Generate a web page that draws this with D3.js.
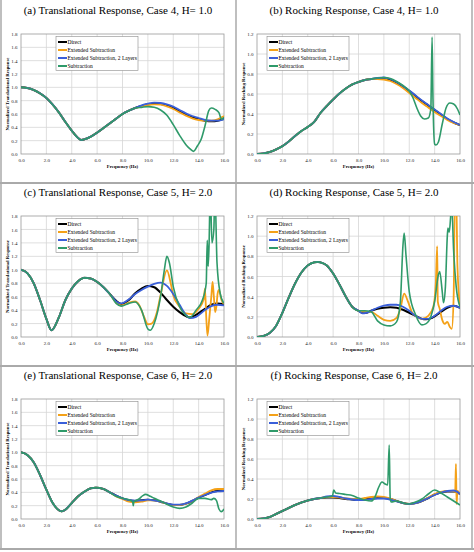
<!DOCTYPE html>
<html>
<head>
<meta charset="utf-8">
<script src="https://cdn.jsdelivr.net/npm/d3@7/dist/d3.min.js"></script>
<style>
  html, body { margin: 0; padding: 0; background: #fff; }
  svg { display: block; }
</style>
</head>
<body>
<svg id="chart" width="474" height="552"></svg>
<script>
// ---------------- DATA ----------------
const xTicks = [0, 2, 4, 6, 8, 10, 12, 14, 16];
const yTicksTrans = [0, 0.2, 0.4, 0.6, 0.8, 1.0, 1.2, 1.4, 1.6, 1.8];
const yTicksRock = [0, 0.2, 0.4, 0.6, 0.8, 1.0, 1.2];
const seriesNames = ["Direct", "Extended Subtraction", "Extended Subtraction, 2 Layers", "Subtraction"];
const titles = [
  "(a)  Translational Response, Case 4, H= 1.0",
  "(b)  Rocking Response, Case 4, H= 1.0",
  "(c)  Translational Response, Case 5, H= 2.0",
  "(d)  Rocking Response, Case 5, H= 2.0",
  "(e)  Translational Response, Case 6, H= 2.0",
  "(f)  Rocking Response, Case 6, H= 2.0"
];

// Panel (a) Translational, Case 4
const aCommon = [[0,1.0],[0.5,0.99],[1,0.96],[1.5,0.91],[2,0.84],[2.5,0.74],[3,0.62],[3.5,0.48],[4,0.35],[4.5,0.24],[4.75,0.21],[5,0.22],[5.5,0.26],[6,0.32],[6.5,0.39],[7,0.46],[7.5,0.53],[8,0.60],[8.5,0.65],[9,0.69]];
const aDirect = [[9.5,0.72],[10,0.745],[10.5,0.755],[11,0.75],[11.5,0.73],[12,0.69],[12.5,0.64],[13,0.59],[13.5,0.55],[14,0.52],[14.5,0.50],[15,0.49],[15.5,0.50],[16,0.53]];
const aExt = [[9.5,0.71],[10,0.735],[10.5,0.745],[11,0.74],[11.5,0.715],[12,0.675],[12.5,0.625],[13,0.575],[13.5,0.535],[14,0.51],[14.5,0.50],[15,0.50],[15.5,0.52],[16,0.57]];
const aExt2 = [[9.5,0.73],[10,0.755],[10.5,0.77],[11,0.765],[11.5,0.745],[12,0.71],[12.5,0.66],[13,0.61],[13.5,0.57],[14,0.54],[14.5,0.51],[15,0.50],[15.5,0.50],[16,0.52]];
const aSub = [[9.5,0.70],[10,0.71],[10.5,0.70],[11,0.66],[11.5,0.58],[12,0.44],[12.5,0.28],[13,0.14],[13.3,0.08],[13.6,0.04],[13.9,0.12],[14.2,0.22],[14.5,0.42],[14.8,0.65],[15.0,0.69],[15.3,0.67],[15.6,0.62],[15.8,0.52],[16,0.55]];

// Panel (b) Rocking, Case 4
const bCommon = [[0,0],[0.5,0.005],[1,0.02],[1.5,0.045],[2,0.078],[2.5,0.125],[3,0.18],[3.5,0.23],[4,0.27],[4.5,0.32],[5,0.41],[5.5,0.48],[6,0.545],[6.5,0.605],[7,0.655],[7.5,0.695],[8,0.72],[8.5,0.74],[9,0.75]];
const bDirect = [[9.5,0.755],[10,0.75],[10.5,0.74],[11,0.715],[11.5,0.675],[12,0.63],[12.5,0.58],[13,0.53],[13.5,0.485],[14,0.44],[14.5,0.395],[15,0.35],[15.5,0.315],[16,0.29]];
const bExt = [[9.5,0.75],[10,0.745],[10.5,0.73],[11,0.70],[11.5,0.66],[12,0.61],[12.5,0.56],[13,0.51],[13.5,0.465],[14,0.42],[14.5,0.38],[15,0.34],[15.5,0.31],[16,0.29]];
const bExt2 = [[9.5,0.76],[10,0.765],[10.5,0.75],[11,0.72],[11.5,0.68],[12,0.635],[12.5,0.585],[13,0.535],[13.5,0.49],[14,0.445],[14.5,0.40],[15,0.355],[15.5,0.32],[16,0.29]];
const bSub = [[9.5,0.76],[10,0.765],[10.5,0.755],[11,0.725],[11.5,0.685],[12,0.63],[12.3,0.56],[12.6,0.46],[12.9,0.38],[13.2,0.35],[13.5,0.36],[13.7,0.45],[13.8,1.17],[13.87,0.55],[14.0,0.10],[14.1,0.09],[14.3,0.12],[14.6,0.30],[14.9,0.46],[15.2,0.51],[15.5,0.50],[15.8,0.45],[16,0.39]];

// Panel (c) Translational, Case 5
const cCommon = [[0,1.0],[0.5,0.95],[1,0.80],[1.5,0.55],[2,0.27],[2.4,0.10],[3,0.30],[3.5,0.55],[4,0.72],[4.5,0.83],[5,0.88],[5.5,0.87],[6,0.82],[6.5,0.74],[7,0.64]];
const cDirect = [[7.5,0.54],[7.9,0.49],[8.5,0.55],[9,0.65],[9.5,0.72],[10,0.76],[10.5,0.74],[11,0.66],[11.5,0.55],[12,0.45],[12.5,0.37],[13,0.31],[13.3,0.29],[13.8,0.33],[14.5,0.42],[15,0.48],[15.5,0.50],[16,0.49]];
const cExt = [[7.5,0.51],[7.9,0.47],[8.5,0.51],[9,0.53],[9.3,0.48],[9.7,0.30],[10,0.19],[10.3,0.20],[10.7,0.36],[11,0.62],[11.5,0.99],[11.8,0.80],[12,0.62],[12.5,0.45],[13,0.35],[13.5,0.34],[14,0.42],[14.4,0.56],[14.5,0.72],[14.6,0.30],[14.7,0.02],[14.85,0.30],[15.0,0.60],[15.1,0.82],[15.2,0.60],[15.3,0.37],[15.4,0.45],[15.5,0.65],[15.6,0.70],[15.8,0.55],[16,0.49]];
const cExt2 = [[7.5,0.53],[7.9,0.50],[8.5,0.56],[9,0.64],[9.5,0.70],[10,0.75],[10.5,0.79],[11,0.81],[11.5,0.76],[12,0.64],[12.5,0.48],[13,0.33],[13.3,0.28],[13.8,0.30],[14.5,0.40],[15,0.46],[15.5,0.48],[16,0.47]];
const cSub = [[7.5,0.50],[7.9,0.46],[8.5,0.50],[9,0.52],[9.5,0.40],[10,0.12],[10.2,0.10],[10.5,0.20],[11,0.60],[11.3,1.00],[11.5,1.20],[11.7,1.10],[12,0.75],[12.5,0.45],[13,0.32],[13.3,0.29],[13.8,0.40],[14.3,0.55],[14.6,0.80],[14.68,1.44],[14.75,1.05],[14.82,1.35],[14.92,2.2],[15.05,1.4],[15.2,1.6],[15.28,2.2],[15.45,1.1],[15.7,0.65],[16,0.50]];

// Panel (d) Rocking, Case 5
const dCommon = [[0,0],[0.5,0.01],[1,0.04],[1.5,0.11],[2,0.24],[2.5,0.39],[3,0.53],[3.5,0.64],[4,0.71],[4.5,0.74],[4.8,0.745],[5,0.74],[5.5,0.71],[6,0.63],[6.5,0.52],[7,0.40],[7.5,0.30],[8,0.26]];
const dDirect = [[8.3,0.24],[8.6,0.24],[9,0.26],[9.5,0.28],[10,0.29],[10.5,0.295],[11,0.29],[11.5,0.27],[12,0.24],[12.5,0.21],[13,0.18],[13.3,0.175],[13.8,0.19],[14.5,0.25],[15,0.29],[15.5,0.31],[16,0.29]];
const dExt = [[8.5,0.25],[9,0.25],[9.5,0.21],[10,0.17],[10.5,0.16],[11,0.19],[11.3,0.28],[11.6,0.43],[11.9,0.35],[12.2,0.25],[12.6,0.20],[13,0.18],[13.5,0.21],[13.9,0.30],[14.1,0.55],[14.2,0.90],[14.25,0.35],[14.4,0.28],[14.6,0.17],[14.8,0.13],[15,0.15],[15.2,0.10],[15.35,0.08],[15.5,0.40],[15.6,1.40],[15.7,1.40],[15.8,0.70],[16,0.30]];
const dExt2 = [[8.3,0.235],[8.6,0.24],[9,0.26],[9.5,0.29],[10,0.31],[10.5,0.32],[11,0.32],[11.5,0.30],[12,0.26],[12.5,0.21],[13,0.18],[13.5,0.18],[14,0.21],[14.5,0.26],[15,0.30],[15.5,0.31],[16,0.29]];
const dSub = [[8.5,0.26],[9,0.25],[9.5,0.16],[10,0.12],[10.5,0.11],[11,0.15],[11.3,0.35],[11.5,0.90],[11.6,1.03],[11.75,0.80],[12,0.45],[12.5,0.22],[13,0.12],[13.3,0.13],[13.7,0.20],[14.0,0.35],[14.3,0.62],[14.4,0.65],[14.6,0.45],[14.7,0.34],[14.85,0.50],[15.0,1.00],[15.05,1.08],[15.15,1.04],[15.3,1.25],[15.35,1.30],[15.5,0.85],[15.7,0.50],[16,0.30]];

// Panel (e) Translational, Case 6
const eCommon = [[0,1.0],[0.5,0.96],[1,0.85],[1.5,0.66],[2,0.44],[2.5,0.24],[3,0.13],[3.2,0.115],[3.5,0.14],[4,0.24],[4.5,0.34],[5,0.41],[5.5,0.46],[5.9,0.47],[6.5,0.45],[7,0.40]];
const eDirect = [[7.5,0.35],[8,0.31],[8.5,0.28],[9,0.27],[9.5,0.28],[10,0.29],[10.5,0.28],[11,0.26],[11.5,0.23],[12,0.21],[12.5,0.21],[13,0.23],[13.5,0.27],[14,0.32],[14.5,0.36],[15,0.40],[15.5,0.42],[16,0.42]];
const eExt = [[7.5,0.34],[8,0.30],[8.5,0.26],[9,0.25],[9.5,0.26],[10,0.28],[10.5,0.28],[11,0.26],[11.5,0.23],[12,0.21],[12.5,0.21],[13,0.23],[13.5,0.27],[14,0.33],[14.5,0.38],[15,0.43],[15.5,0.45],[16,0.45]];
const eExt2 = [[7.5,0.35],[8,0.31],[8.5,0.285],[9,0.275],[9.5,0.28],[10,0.29],[10.5,0.28],[11,0.26],[11.5,0.235],[12,0.215],[12.5,0.215],[13,0.235],[13.5,0.275],[14,0.32],[14.5,0.36],[15,0.395],[15.5,0.415],[16,0.42]];
const eSub = [[7.5,0.34],[8,0.31],[8.5,0.29],[8.8,0.26],[8.85,0.20],[8.9,0.26],[9.3,0.30],[9.6,0.35],[9.8,0.37],[10.2,0.34],[10.5,0.31],[11,0.27],[11.5,0.22],[12,0.18],[12.5,0.16],[13,0.18],[13.5,0.24],[14,0.31],[14.5,0.31],[15,0.29],[15.2,0.31],[15.4,0.28],[15.6,0.15],[15.8,0.11],[16,0.15]];

// Panel (f) Rocking, Case 6
const fCommon = [[0,0],[0.5,0.005],[1,0.02],[1.5,0.05],[2,0.08],[2.5,0.11],[3,0.14],[3.5,0.165],[4,0.185],[4.5,0.20],[5,0.21]];
const fDirect = [[5.5,0.215],[6,0.215],[6.5,0.21],[7,0.20],[7.5,0.195],[8,0.19],[8.5,0.195],[9,0.205],[9.5,0.21],[10,0.21],[10.5,0.20],[11,0.18],[11.5,0.16],[12,0.15],[12.5,0.16],[13,0.18],[13.5,0.21],[14,0.245],[14.5,0.265],[15,0.275],[15.5,0.275],[16,0.25]];
const fExt = [[5.5,0.22],[6,0.22],[6.5,0.215],[7,0.205],[7.5,0.20],[8,0.20],[8.5,0.21],[9,0.22],[9.5,0.225],[10,0.22],[10.5,0.205],[11,0.18],[11.5,0.16],[12,0.15],[12.5,0.16],[13,0.18],[13.5,0.215],[14,0.25],[14.5,0.27],[15,0.28],[15.5,0.28],[15.62,0.27],[15.68,0.55],[15.73,0.15],[15.8,0.28],[16,0.25]];
const fExt2 = [[5.5,0.225],[6,0.23],[6.5,0.22],[7,0.205],[7.5,0.195],[8,0.19],[8.5,0.19],[9,0.20],[9.5,0.205],[10,0.205],[10.5,0.195],[11,0.175],[11.5,0.16],[12,0.15],[12.5,0.16],[13,0.18],[13.5,0.21],[14,0.24],[14.5,0.265],[15,0.28],[15.5,0.285],[16,0.25]];
const fSub = [[5.5,0.22],[5.95,0.23],[6.05,0.29],[6.2,0.26],[6.5,0.255],[7,0.245],[7.5,0.235],[8,0.21],[8.5,0.19],[9,0.18],[9.3,0.22],[9.6,0.32],[9.85,0.37],[10.1,0.35],[10.3,0.34],[10.42,0.74],[10.5,0.20],[10.6,0.17],[11,0.18],[11.5,0.16],[12,0.15],[12.5,0.17],[13,0.20],[13.5,0.25],[14,0.29],[14.5,0.26],[15,0.22],[15.5,0.18],[16,0.14]];

// ---------------- LAYOUT / STYLE ----------------
const colors = ["#000000", "#f4a118", "#3a5fd9", "#2f9a6a"];
const widths = [2, 1.8, 1.8, 1.6];

const panels = [
  {title: titles[0], ylabel: "Normalized Translational Response", yTicks: yTicksTrans, series: [aCommon.concat(aDirect), aCommon.concat(aExt), aCommon.concat(aExt2), aCommon.concat(aSub)], col: 0, row: 0},
  {title: titles[1], ylabel: "Normalized Rocking Response", yTicks: yTicksRock, series: [bCommon.concat(bDirect), bCommon.concat(bExt), bCommon.concat(bExt2), bCommon.concat(bSub)], col: 1, row: 0},
  {title: titles[2], ylabel: "Normalized Translational Response", yTicks: yTicksTrans, series: [cCommon.concat(cDirect), cCommon.concat(cExt), cCommon.concat(cExt2), cCommon.concat(cSub)], col: 0, row: 1},
  {title: titles[3], ylabel: "Normalized Rocking Response", yTicks: yTicksRock, series: [dCommon.concat(dDirect), dCommon.concat(dExt), dCommon.concat(dExt2), dCommon.concat(dSub)], col: 1, row: 1},
  {title: titles[4], ylabel: "Normalized Translational Response", yTicks: yTicksTrans, series: [eCommon.concat(eDirect), eCommon.concat(eExt), eCommon.concat(eExt2), eCommon.concat(eSub)], col: 0, row: 2},
  {title: titles[5], ylabel: "Normalized Rocking Response", yTicks: yTicksRock, series: [fCommon.concat(fDirect), fCommon.concat(fExt), fCommon.concat(fExt2), fCommon.concat(fSub)], col: 1, row: 2}
];

const colPlotX = [[21, 224], [257, 460]];
const rowPlotY = [[34, 154], [216, 337], [399, 519]];
const colCenter = [118, 354];
const legendX = [56, 267];

const svg = d3.select("#chart");
const serif = "'Liberation Serif', 'Times New Roman', serif";

// frame
svg.append("rect").attr("x", 0).attr("y", 0).attr("width", 474).attr("height", 552).attr("fill", "#fff");

panels.forEach((p, i) => {
  const [x0, x1] = colPlotX[p.col];
  const [y0, y1] = rowPlotY[p.row];
  const ymax = p.yTicks[p.yTicks.length - 1];
  const x = d3.scaleLinear().domain([0, 16]).range([x0, x1]);
  const y = d3.scaleLinear().domain([0, ymax]).range([y1, y0]);
  const g = svg.append("g");

  // title
  g.append("text").attr("x", colCenter[p.col]).attr("y", y0 - 20)
    .attr("text-anchor", "middle").attr("font-family", serif).attr("font-size", 11)
    .attr("fill", "#000").text(p.title);

  // plot background
  g.append("rect").attr("x", x0).attr("y", y0).attr("width", x1 - x0).attr("height", y1 - y0).attr("fill", "#fff");

  // grid
  g.append("g").selectAll("line").data(xTicks.slice(1, -1)).join("line")
    .attr("x1", d => x(d)).attr("x2", d => x(d)).attr("y1", y0).attr("y2", y1)
    .attr("stroke", "#d6d6d6").attr("stroke-width", 0.8);
  g.append("g").selectAll("line").data(p.yTicks.slice(1, -1)).join("line")
    .attr("x1", x0).attr("x2", x1).attr("y1", d => y(d)).attr("y2", d => y(d))
    .attr("stroke", "#d6d6d6").attr("stroke-width", 0.8);

  // axes
  const xAxis = d3.axisBottom(x).tickValues(xTicks).tickFormat(d3.format(".1f")).tickSize(0).tickPadding(4);
  const gx = g.append("g").attr("transform", `translate(0,${y1})`).call(xAxis);
  const yAxis = d3.axisLeft(y).tickValues(p.yTicks).tickFormat(d3.format(".1f")).tickSize(0).tickPadding(3.5);
  const gy = g.append("g").attr("transform", `translate(${x0},0)`).call(yAxis);
  [gx, gy].forEach(a => {
    a.select(".domain").remove();
    a.selectAll("text").attr("font-family", serif).attr("font-size", 5).attr("fill", "#222");
  });

  // plot border
  g.append("rect").attr("x", x0).attr("y", y0).attr("width", x1 - x0).attr("height", y1 - y0)
    .attr("fill", "none").attr("stroke", "#9a9a9a").attr("stroke-width", 0.8);

  // axis titles
  g.append("text").attr("x", (x0 + x1) / 2).attr("y", y1 + 13.5).attr("text-anchor", "middle")
    .attr("font-family", serif).attr("font-size", 4.7).attr("font-weight", "bold").text("Frequency (Hz)");
  g.append("text").attr("transform", `translate(${x0 - 12},${(y0 + y1) / 2}) rotate(-90)`)
    .attr("text-anchor", "middle").attr("font-family", serif).attr("font-size", 4.8)
    .attr("font-weight", "bold").text(p.ylabel);

  // clip
  const cid = "clip" + i;
  svg.append("clipPath").attr("id", cid).append("rect")
    .attr("x", x0).attr("y", y0).attr("width", x1 - x0).attr("height", y1 - y0);

  const line = d3.line().x(d => x(d[0])).y(d => y(d[1])).curve(d3.curveMonotoneX);
  const lg = g.append("g").attr("clip-path", `url(#${cid})`);
  p.series.forEach((s, k) => {
    lg.append("path").attr("d", line(s)).attr("fill", "none")
      .attr("stroke", colors[k]).attr("stroke-width", widths[k]).attr("stroke-linejoin", "round");
  });

  // legend
  const lx = legendX[p.col], ly = y0 + 2.5;
  const leg = g.append("g").attr("transform", `translate(${lx},${ly})`);
  leg.append("rect").attr("x", 0).attr("y", 0).attr("width", 82).attr("height", 34)
    .attr("fill", "#fff").attr("stroke", "#8a8a8a").attr("stroke-width", 0.6);
  seriesNames.forEach((n, k) => {
    const yy = 5.5 + k * 8;
    leg.append("line").attr("x1", 2).attr("x2", 11).attr("y1", yy).attr("y2", yy)
      .attr("stroke", colors[k]).attr("stroke-width", 2);
    leg.append("text").attr("x", 11.5).attr("y", yy + 1.9).attr("font-family", serif)
      .attr("font-size", 5.5).attr("fill", "#000").text(n);
  });
});

// cell separators
const sep = svg.append("g");
[183, 366, 549].forEach(yy => sep.append("line").attr("x1", 0).attr("x2", 474).attr("y1", yy).attr("y2", yy).attr("stroke", "#555").attr("stroke-width", 1));
[1, 236, 472].forEach(xx => sep.append("line").attr("x1", xx).attr("x2", xx).attr("y1", 0).attr("y2", 549).attr("stroke", "#aaa").attr("stroke-width", 1.5));
</script>
</body>
</html>
